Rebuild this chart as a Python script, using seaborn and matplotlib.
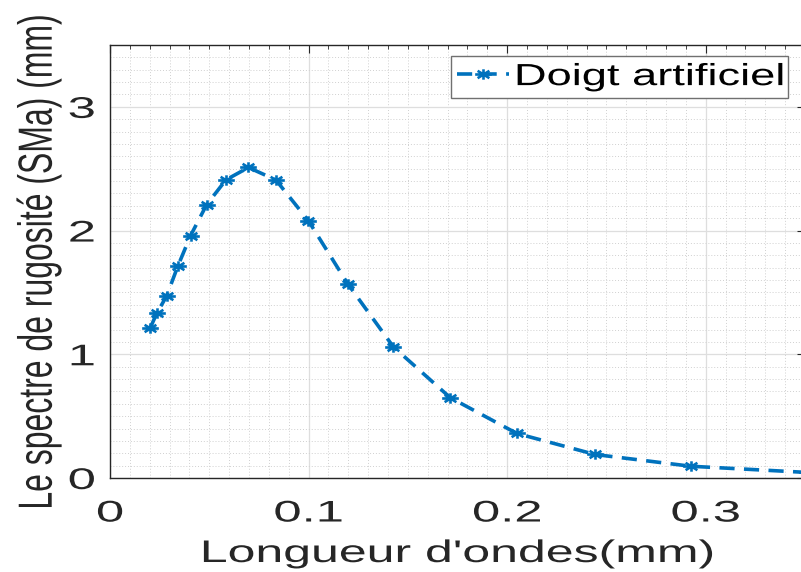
import numpy as np
import pandas as pd
import seaborn as sns
import matplotlib
matplotlib.use("Agg")
import matplotlib.pyplot as plt
from matplotlib.path import Path
from matplotlib.transforms import Affine2D
from matplotlib.patheffects import AbstractPathEffect
from matplotlib.ticker import MultipleLocator

# Roughness spectrum of the artificial finger
wavelength_mm = [0.0202, 0.0235, 0.0285, 0.0341, 0.0406, 0.0487, 0.0584, 0.0697,
                 0.0835, 0.0999, 0.1197, 0.1427, 0.1713, 0.2049, 0.2443, 0.2925, 0.3510]
sma_mm = [1.21, 1.33, 1.47, 1.71, 1.96, 2.21, 2.41, 2.51,
          2.41, 2.08, 1.57, 1.06, 0.65, 0.36, 0.19, 0.095, 0.045]
series_label = "Doigt artificiel"
x_ticks = [0.0, 0.1, 0.2, 0.3]
x_tick_labels = ["0", "0.1", "0.2", "0.3"]
y_ticks = [0, 1, 2, 3]
y_tick_labels = ["0", "1", "2", "3"]
x_title = "Longueur d'ondes(mm)"
y_title = "Le spectre de rugosité (SMa) (mm)"

df = pd.DataFrame({"wavelength": wavelength_mm, "sma": sma_mm, "serie": series_label})

sns.set_theme(style="whitegrid")
plt.rcParams["font.family"] = ["Liberation Sans", "DejaVu Sans"]


class HStretch(AbstractPathEffect):
    """Widen glyph outlines horizontally around a chosen anchor."""

    def __init__(self, factor, anchor="center"):
        super().__init__()
        self.factor = factor
        self.anchor = anchor

    def draw_path(self, renderer, gc, tpath, affine, rgbFace=None):
        ext = tpath.get_extents(affine)
        if self.anchor == "left":
            x0 = ext.x0
        elif self.anchor == "right":
            x0 = ext.x1
        else:
            x0 = 0.5 * (ext.x0 + ext.x1)
        t = affine + Affine2D().translate(-x0, 0).scale(self.factor, 1.0).translate(x0, 0)
        renderer.draw_path(gc, tpath, t, rgbFace)


def wide_asterisk(stretch=1.6):
    verts, codes = [], []
    for k in range(8):
        a = np.pi * k / 4
        verts += [(0, 0), (np.cos(a) * stretch, np.sin(a))]
        codes += [Path.MOVETO, Path.LINETO]
    return Path(np.array(verts), codes)


ink = "#262626"
blue = "#0072BD"

fig = plt.figure(figsize=(8.01, 5.72), dpi=100)
ax = fig.add_axes([110 / 801, 94 / 572, 695 / 801, 433 / 572])
ax.set_facecolor("white")

sns.lineplot(data=df, x="wavelength", y="sma", ax=ax, sort=False,
             color=blue, linewidth=2.6, linestyle=(0, (4.2, 2.6)),
             marker=wide_asterisk(), markersize=12, markeredgewidth=1.9,
             markeredgecolor=blue, markerfacecolor=blue,
             label=series_label, clip_on=True)

ax.set_xlim(0, 0.35)
ax.set_ylim(0, 3.5)
ax.set_xticks(x_ticks)
ax.set_xticklabels(x_tick_labels)
ax.set_yticks(y_ticks)
ax.set_yticklabels(y_tick_labels)
ax.xaxis.set_minor_locator(MultipleLocator(0.01))
ax.yaxis.set_minor_locator(MultipleLocator(0.1))

ax.set_axisbelow(True)
ax.grid(which="major", color="#dedede", linewidth=0.9, linestyle="-")
ax.grid(which="minor", color="#d0d0d0", linewidth=0.7, linestyle=(0, (1, 2)))

for side in ["left", "bottom", "top"]:
    ax.spines[side].set_visible(True)
    ax.spines[side].set_color(ink)
    ax.spines[side].set_linewidth(1.0)
ax.spines["right"].set_visible(False)

ax.tick_params(which="both", direction="in", top=True, right=True, colors=ink)
ax.tick_params(which="major", length=6, width=0.8, labelsize=21.5)
ax.tick_params(which="minor", length=3, width=0.6)
ax.tick_params(axis="x", which="major", pad=15.5)
ax.tick_params(axis="y", which="major", pad=10.8)

for lab in ax.get_xticklabels():
    lab.set_path_effects([HStretch(1.7, "center")])
for lab in ax.get_yticklabels():
    lab.set_path_effects([HStretch(1.7, "right")])

ax.set_xlabel(x_title, fontsize=22.5, color=ink)
ax.set_ylabel(y_title, fontsize=23, color=ink)
ax.xaxis.set_label_coords(0.5, -0.1409)
ax.yaxis.set_label_coords(-0.0799, 0.5)
ax.xaxis.label.set_path_effects([HStretch(1.6, "center")])
ax.yaxis.label.set_path_effects([HStretch(1.5, "center")])

leg = ax.legend(loc="upper left", bbox_to_anchor=(0.4906, 0.8799, 0.4849, 0.0947),
                mode="expand", borderaxespad=0, fontsize=22, frameon=True,
                fancybox=False, framealpha=1.0, edgecolor="#707070",
                borderpad=0.2, handlelength=1.7, handletextpad=0.2)
leg.get_frame().set_linewidth(1.0)
for t in leg.get_texts():
    t.set_color("black")
    t.set_path_effects([HStretch(1.48, "left")])

fig.savefig("out.png", dpi=100, facecolor="white")
